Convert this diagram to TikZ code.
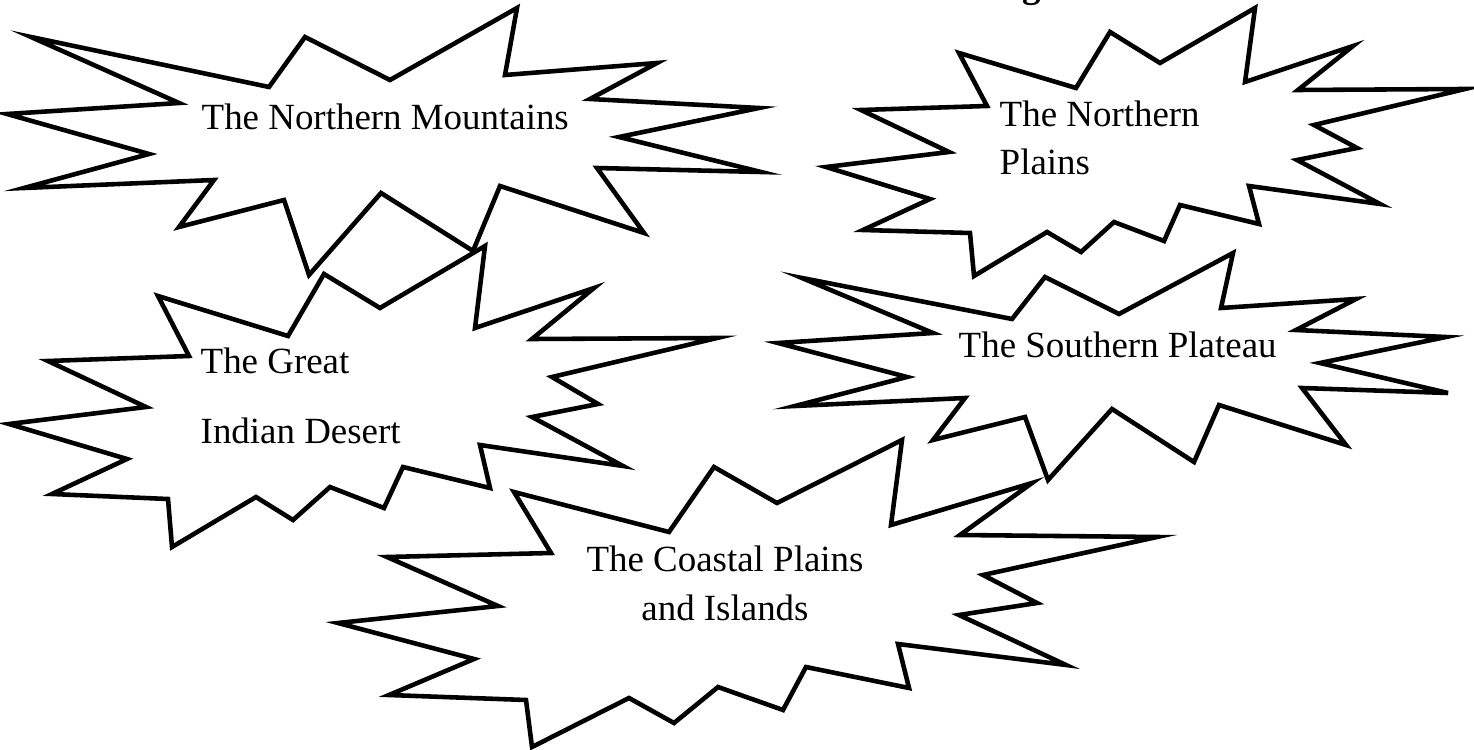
\documentclass[tikz,border=0pt]{standalone}
\usepackage{fontspec}
\setmainfont{Liberation Serif}
\usepackage{tikz}

\tikzset{
  burst/.style={draw=black, fill=white, line width=1.3pt},
  region/.style={inner sep=0pt, font=\fontsize{10.5}{13.66}\selectfont}
}

\begin{document}
\begin{tikzpicture}[x=0.01cm, y=-0.01cm]
  \useasboundingbox (0,0) rectangle (1474,749);
  % cut-off heading at the top edge
  \node[inner sep=0pt, anchor=base west, font=\fontsize{10.5}{12}\selectfont\bfseries] (title) at (1022,-2) {g};
  % the northern mountains
  \draw[burst] (31,37) -- (269,87) -- (305,37) -- (390,80) -- (517,8) -- (505,75) -- (657,63) -- (590,99)
    -- (759,108) -- (619,137) -- (761,172) -- (597,168) -- (644,233) -- (500,186) -- (473,251) -- (381,193)
    -- (309,275) -- (284,200) -- (179,227) -- (214,180) -- (24,188) -- (149,154) -- (7,114) -- (179,103) -- cycle;
  % the northern plains
  \draw[burst] (959,53) -- (1076,88) -- (1110,32) -- (1160,63) -- (1255,8) -- (1245,82) -- (1353,46) -- (1298,90)
    -- (1465,89) -- (1314,125) -- (1357,148) -- (1297,160) -- (1380,204) -- (1249,186) -- (1259,224) -- (1180,205)
    -- (1164,241) -- (1114,222) -- (1081,252) -- (1047,232) -- (974,276) -- (970,233) -- (863,230) -- (930,199)
    -- (826,167) -- (949,152) -- (861,110) -- (987,106) -- cycle;
  % the desert
  \draw[burst] (158,296) -- (288,336) -- (324,274) -- (380,308) -- (485,246) -- (475,328) -- (594,288) -- (532,339)
    -- (717,338) -- (552,377) -- (598,404) -- (532,417) -- (623,466) -- (480,445) -- (490,488) -- (403,467)
    -- (384,508) -- (330,487) -- (293,520) -- (256,497) -- (172,547) -- (168,499) -- (52,494) -- (127,459)
    -- (9,424) -- (146,407) -- (48,361) -- (189,356) -- cycle;
  % the plateau
  \draw[burst] (802,278) -- (1012,319) -- (1045,277) -- (1119,314) -- (1233,253) -- (1221,308) -- (1356,299) -- (1296,330)
    -- (1446,337) -- (1320,363) -- (1448,393) -- (1302,388) -- (1346,445) -- (1219,405) -- (1194,462) -- (1112,409)
    -- (1048,480) -- (1025,417) -- (933,440) -- (965,398) -- (795,406) -- (907,377) -- (778,343) -- (933,333) -- cycle;
  % the coast
  \draw[burst] (514,492) -- (669,532) -- (714,467) -- (777,503) -- (902,440) -- (891,525) -- (1032,483) -- (960,535)
    -- (1157,537) -- (983,575) -- (1037,603) -- (959,615) -- (1066,665) -- (898,644) -- (909,688) -- (806,667)
    -- (783,710) -- (718,687) -- (674,723) -- (629,698) -- (532,747) -- (526,700) -- (389,695) -- (474,659)
    -- (338,623) -- (498,606) -- (387,557) -- (551,553) -- cycle;

  % labels (base = last line)
  \node[region, anchor=base west] (mountains) at (201,130) {The Northern Mountains};
  \node[region, anchor=base west, align=left] (plains) at (999,175) {The Northern\\Plains};
  \node[region, anchor=base west, align=left, font=\fontsize{10.5}{19.9}\selectfont] (desert) at (200,443) {The Great\\Indian Desert};
  \node[region, anchor=base west] (plateau) at (958,357) {The Southern Plateau};
  \node[region, anchor=base, align=center] (coast) at (725,620) {The Coastal Plains\\and Islands};
\end{tikzpicture}
\end{document}
